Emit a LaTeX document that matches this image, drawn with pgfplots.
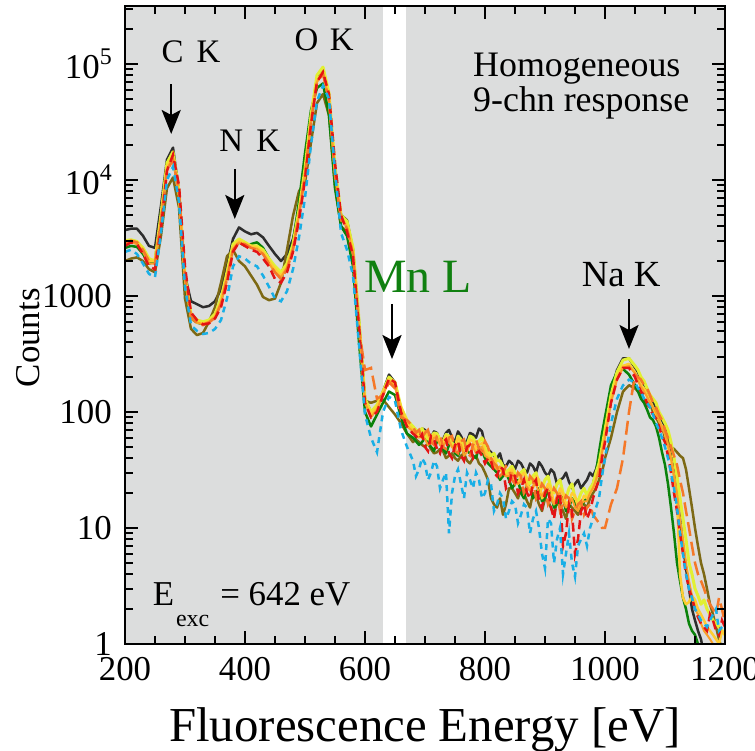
\documentclass[border=0pt]{standalone}
\usepackage{fontspec}
\setmainfont{Liberation Serif}
\usepackage{pgfplots}
\usepackage{pgfplotstable}
\pgfplotsset{compat=1.18}
\usetikzlibrary{arrows.meta}
\definecolor{bgGray}{RGB}{220,221,221}
\definecolor{cB}{RGB}{45,45,45}
\definecolor{cOl}{RGB}{125,105,20}
\definecolor{cG}{RGB}{10,130,10}
\definecolor{cR}{RGB}{228,20,20}
\definecolor{cO}{RGB}{245,120,40}
\definecolor{cY1}{RGB}{255,205,50}
\definecolor{cY2}{RGB}{225,240,50}
\definecolor{cC}{RGB}{25,175,230}
\definecolor{cX9}{RGB}{250,160,40}
\definecolor{mnGreen}{RGB}{16,128,16}

\pgfplotstableread{
x B Ol G R O Y1 Y2 C X9
200 3700 2000 2600 2700 2900 2900 3000 2400 2800
210 3800 2100 2700 2900 3000 3000 3050 2500 2900
220 3800 2150 2650 2800 2900 2900 2950 2300 2800
230 3300 2000 2300 2300 2500 2500 2600 1900 2400
240 2700 1700 1900 1800 2000 2000 2100 1550 1900
250 2600 1600 2000 1700 1900 2000 2000 1450 1900
260 6000 3300 5200 3800 4500 4800 5000 3500 4500
270 15000 8500 13000 12000 12000 13000 14000 10000 12500
280 19000 10500 15500 16500 15000 16000 17500 13000 15500
290 8000 5800 7500 9000 8000 7500 8000 6500 7500
300 1500 950 1300 1800 1500 1400 1500 1200 1400
310 900 520 640 720 660 650 700 560 650
320 850 460 590 620 580 590 620 500 590
330 800 480 570 570 560 580 600 470 570
340 820 600 600 580 590 600 620 480 600
350 900 800 680 640 650 670 700 520 660
360 1150 1300 900 800 850 900 950 620 880
370 1800 2200 1500 1300 1400 1500 1600 950 1450
380 3100 2500 2600 2400 2500 2600 2800 1800 2500
390 3900 2000 2900 2900 2900 3000 3100 2200 2900
400 3600 1800 2700 2700 2800 2800 2900 2100 2700
410 3400 1500 2800 2500 2600 2700 2700 1900 2600
420 3500 1250 2900 2400 2500 2600 2700 1800 2550
430 3200 980 2600 2100 2300 2400 2500 1500 2300
440 2700 920 2100 1800 1900 2000 2100 1200 1900
450 2300 950 1700 1400 1600 1700 1800 950 1600
460 2000 1300 1600 1300 1400 1500 1600 900 1450
470 2300 2500 1900 1600 1700 1800 1900 1100 1750
480 3100 4900 2900 2400 2500 2600 2800 1700 2600
490 5500 8000 6500 4500 5000 5200 5500 3200 5000
500 12000 9500 17000 10000 11000 11500 12500 7000 11000
510 35000 21000 40000 30000 32000 33000 36000 20000 32000
520 75000 46000 62000 70000 70000 72000 80000 48000 70000
530 90000 55000 68000 85000 82000 86000 94000 65000 83000
540 50000 36000 36000 55000 48000 52000 56000 50000 48000
550 11000 9000 8500 14000 11000 12000 13000 12000 11000
560 5000 4000 4000 5000 4500 4800 5000 3500 4600
570 4500 3500 3300 3600 3800 4000 4400 2500 3900
580 2500 2200 1800 2200 2300 2400 2600 1500 2300
590 600 500 400 550 520 560 620 380 540
600 130 125 100 120 230 125 130 95 120
610 100 120 75 90 240 95 100 60 90
620 110 125 95 100 130 110 115 45 105
630 150 128 120 140 140 150 150 100 140
640 210 110 150 195 180 190 200 135 185
650 180 95 140 180 160 170 180 125 165
660 105 80 90 100 90 110 110 70 100
670 80 65 65 75 85 80 85 50 75
680 72 55 60 65 75 70 75 38 68
685 60 58 56 62 66 66 70 28 62
690 65 55 52 58 70 62 66 32 60
695 72 52 55 64 60 60 72 40 64
700 70 50 60 50 66 68 64 36 58
705 58 54 54 46 70 62 58 26 52
710 60 48 50 62 55 56 60 30 54
715 68 44 46 58 52 64 66 38 60
720 66 45 56 48 62 60 65 34 60
725 56 48 58 44 64 54 58 22 52
730 58 46 48 55 50 52 55 26 50
735 66 40 44 58 48 62 64 30 56
740 70 42 52 44 60 58 62 9 56
745 60 44 56 40 62 50 54 20 50
750 55 40 44 52 46 50 48 28 46
755 68 38 42 56 44 60 62 32 54
760 62 42 50 42 56 54 58 24 52
765 54 44 52 38 58 46 50 18 42
770 56 38 46 50 44 48 52 30 45
775 66 36 44 52 42 58 62 26 54
780 64 40 42 40 52 56 60 22 50
785 60 42 40 44 58 48 54 30 44
790 72 36 50 46 48 52 56 26 48
795 68 34 46 42 46 54 60 18 50
800 52 30 40 36 56 46 50 20 42
805 48 26 36 40 50 42 46 26 40
810 45 18 34 38 40 38 42 24 36
815 42 16 32 30 36 40 44 14 34
820 40 15 30 28 34 34 38 16 32
825 44 18 26 34 28 32 38 20 34
830 35 13 28 32 30 30 34 18 30
835 34 16 30 22 34 28 30 12 28
840 38 22 26 24 32 30 32 14 28
845 36 22 22 30 26 32 34 17 30
850 32 20 24 28 24 26 30 16 26
855 38 18 26 20 30 24 28 11 24
860 36 22 20 22 28 28 30 13 25
865 32 20 18 26 20 30 32 16 26
870 30 17 24 20 22 24 26 15 22
875 36 15 22 18 28 22 24 9 21
880 34 20 18 24 26 22 28 12 23
885 30 19 20 26 18 28 30 14 24
890 37 16 22 17 20 26 24 10 20
895 34 14 17 15 24 18 22 6 19
900 30 18 18 20 22 20 26 4.5 21
905 28 17 21 22 16 24 28 12 22
910 32 15 20 15 18 22 22 11 18
915 30 13 15 12 22 16 20 5 16
920 24 17 16 18 20 18 24 8 19
925 26 16 19 20 14 22 26 10 20
930 27 14 18 7 16 20 20 4 17
935 30 12 14 9 19 16 18 6 15
940 25 16 15 16 18 17 22 9 16
945 22 15 18 14 12 20 24 5 18
950 24 14 17 6 14 19 18 3.8 15
955 26 13 14 8 16 15 17 7 14
960 22 17 15 14 17 16 20 8 16
965 24 16 17 16 13 19 22 9 17
970 26 15 18 12 15 18 19 7 17
975 30 18 21 14 16 20 22 10 20
980 28 20 24 18 13 22 24 12 22
985 32 22 30 22 12 26 30 15 26
990 40 26 45 26 11 32 36 18 32
995 55 30 65 40 10 45 50 28 45
1000 75 40 90 55 10 65 70 40 60
1010 150 60 170 120 16 130 140 80 120
1020 230 100 220 190 22 200 220 130 190
1030 290 150 235 240 40 250 280 170 240
1040 290 170 210 240 100 260 290 190 250
1050 240 160 170 200 210 220 250 180 215
1055 220 150 150 170 200 190 230 160 185
1060 190 140 130 150 190 170 200 150 165
1065 175 130 120 140 170 160 185 130 150
1070 150 115 105 120 160 140 160 120 135
1075 130 120 90 105 140 125 140 110 120
1080 120 100 85 95 120 110 130 95 110
1085 110 90 75 88 110 95 120 80 100
1090 90 80 60 75 95 85 100 70 85
1095 85 75 45 62 85 75 90 60 72
1100 75 60 35 55 70 65 80 50 65
1105 60 58 24 42 60 50 70 40 52
1110 45 50 15 30 50 40 55 30 40
1115 30 48 9 20 42 28 40 22 28
1120 18 45 5 14 35 18 28 15 20
1125 12 42 3.5 9 26 4 18 9 12
1130 7 40 2.5 6 20 2.5 12 6 8
1135 4.5 32 2 4 14 2.2 8 4 5
1140 3 22 1.5 3 10 2.3 5 3 3.5
1145 2 15 1.3 2.5 7 2.6 4 2.5 2.6
1150 1.6 10 1.2 2 5 2.4 3 2 2
1155 1.3 7 1 1.7 4 2 2.6 1.8 1.8
1160 1.1 5 0.8 1.5 3.5 1.8 2.2 1.6 1.5
1165 0.8 4 0.6 1.4 3 1.6 2.4 1.5 1.3
1170 0.6 3 0.5 1.3 2.5 1.4 2 1.4 1.2
1175 0.5 2.2 0.5 1.8 2.2 1.3 1.8 1.6 1.1
1180 0.5 1.8 0.5 1.6 2 1.2 1.6 1.8 1.0
1185 0.5 1.4 0.5 1.3 1.8 1.1 1.5 2 0.9
1190 0.5 1.1 0.5 1.2 2.5 1 1.4 1.3 0.8
1195 0.5 0.9 0.5 1.6 2 1.3 1.3 1.4 0.8
1200 0.5 0.8 0.5 1.4 1.5 1.2 1.2 1.5 0.7
}\spectra

\newcommand{\tl}[1]{\fontsize{35}{40}\selectfont #1}
\newcommand{\supexp}[1]{\raisebox{0.42em}{\fontsize{24}{24}\selectfont #1}}

\begin{document}
\begin{tikzpicture}[x=1bp,y=1bp]
\begin{axis}[
  at={(0,0)}, anchor=south west,
  scale only axis, width=600bp, height=638bp,
  xmin=200, xmax=1200, ymode=log, ymin=1, ymax=3.16e5,
  axis background/.style={fill=bgGray},
  axis on top,
  axis line style={line width=2.5bp, black},
  xtick={200,400,600,800,1000,1200},
  xticklabels={\tl{200},\tl{400},\tl{600},\tl{800},\tl{1000},\tl{1200}},
  minor x tick num=3,
  ytick={1,10,100,1000,10000,100000},
  yticklabels={\tl{1},\tl{10},\tl{100},\tl{1000},\tl{10\supexp{4}},\tl{10\supexp{5}}},
  minor ytick={2,3,4,5,6,7,8,9,20,30,40,50,60,70,80,90,200,300,400,500,600,700,800,900,2000,3000,4000,5000,6000,7000,8000,9000,20000,30000,40000,50000,60000,70000,80000,90000,200000,300000},
  major tick length=13bp, minor tick length=8bp,
  tick style={line width=2bp, black},
  xticklabel style={anchor=north, inner sep=0pt, yshift=-13bp},
  yticklabel style={anchor=east, inner sep=0pt, xshift=-13bp},
  xlabel={Fluorescence Energy [eV]},
  ylabel={Counts},
  every axis x label/.style={at={(axis description cs:0.5,-0.1536)}, anchor=base, font=\fontsize{49}{55}\selectfont},
  every axis y label/.style={at={(axis description cs:-0.1417,0.48)}, anchor=base, rotate=90, font=\fontsize{35}{40}\selectfont},
  clip=true,
]
\fill[white] (axis cs:630,1) rectangle (axis cs:668,3.16e5);

\addplot[no marks, line width=2.5bp, color=cB, line join=round] table[x=x,y=B]{\spectra};
\addplot[no marks, line width=2.5bp, color=cOl, line join=round] table[x=x,y=Ol]{\spectra};
\addplot[no marks, line width=2.5bp, color=cG, line join=round] table[x=x,y=G]{\spectra};
\addplot[no marks, line width=3bp, color=cY2, line join=round] table[x=x,y=Y2]{\spectra};
\addplot[no marks, line width=2.5bp, color=cY1, line join=round] table[x=x,y=Y1]{\spectra};
\addplot[no marks, line width=2bp, color=cX9, line join=round] table[x=x,y=X9]{\spectra};
\addplot[no marks, line width=2.5bp, color=cO, dash pattern=on 14bp off 6bp] table[x=x,y=O]{\spectra};
\addplot[no marks, line width=2.5bp, color=cR, dash pattern=on 9bp off 5bp] table[x=x,y=R]{\spectra};
\addplot[no marks, line width=2.5bp, color=cC, dash pattern=on 6bp off 5bp] table[x=x,y=C]{\spectra};

\tikzset{pkarrow/.style={line width=2.5bp, -{Stealth[length=24bp,width=19bp,inset=5bp]}}}
\draw[pkarrow] (axis cs:277,6.7e4) -- (axis cs:277,2.49e4);
\draw[pkarrow] (axis cs:383,1.24e4) -- (axis cs:383,4610);
\draw[pkarrow] (axis cs:645,853) -- (axis cs:645,286);
\draw[pkarrow] (axis cs:1040,942) -- (axis cs:1040,349);

\node[font=\fontsize{33}{36}\selectfont, inner sep=0] at (axis cs:310,1.27e5) {C\hspace{0.4em}K};
\node[font=\fontsize{33}{36}\selectfont, inner sep=0] at (axis cs:408,2.17e4) {N\hspace{0.4em}K};
\node[font=\fontsize{33}{36}\selectfont, inner sep=0] at (axis cs:532,1.61e5) {O\hspace{0.35em}K};
\node[font=\fontsize{37}{40}\selectfont, inner sep=0] at (axis cs:1027,1517) {Na K};
\node[font=\fontsize{48}{50}\selectfont, text=mnGreen, inner sep=0] at (axis cs:688,1459) {Mn L};
\node[font=\fontsize{36}{38}\selectfont, inner sep=0, anchor=base west] at (axis cs:780,7.73e4) {Homogeneous};
\node[font=\fontsize{36}{38}\selectfont, inner sep=0, anchor=base west] at (axis cs:780,3.86e4) {9-chn response};
\node[font=\fontsize{35}{38}\selectfont, inner sep=0, anchor=base west] at (axis cs:246,2.13) {E\hspace{2bp}\raisebox{-21bp}{\fontsize{24}{24}\selectfont exc}\hspace{11bp}= 642 eV};
\end{axis}
\pgfresetboundingbox
\path[use as bounding box] (-125bp,-107bp) rectangle (630bp,644bp);
\end{tikzpicture}
\end{document}
